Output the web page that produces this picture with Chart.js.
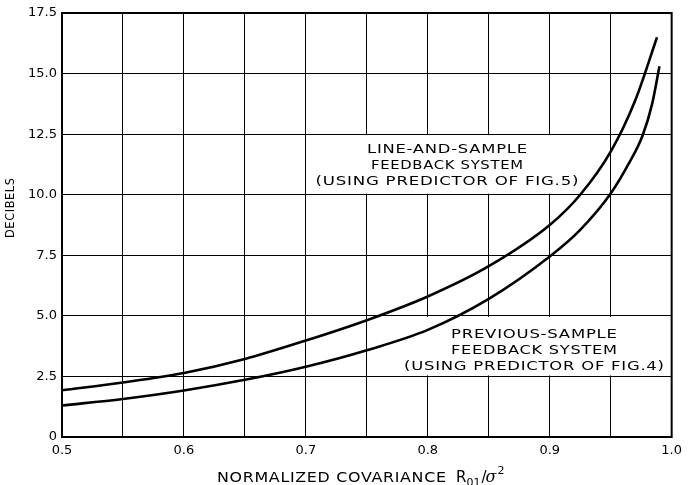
<!DOCTYPE html>
<html><head><meta charset="utf-8">
<script src="https://cdn.jsdelivr.net/npm/chart.js@4/dist/chart.umd.min.js"></script>
<style>html,body{margin:0;padding:0;background:#fff}#wrap{width:688px;height:485px}</style>
</head><body><div id="wrap"><canvas id="c"></canvas></div>
<script>
// ---- data ----
const lineSampleX  = [0.5, 0.55, 0.6, 0.65, 0.7, 0.75, 0.8, 0.85, 0.9, 0.925, 0.95, 0.97, 0.988];
const lineSampleDb = [1.93, 2.25, 2.64, 3.22, 3.98, 4.82, 5.8, 7.05, 8.75, 10.0, 11.78, 13.88, 16.5];
const prevSampleX  = [0.5, 0.55, 0.6, 0.65, 0.7, 0.75, 0.8, 0.85, 0.9, 0.925, 0.95, 0.965, 0.976, 0.984, 0.99];
const prevSampleDb = [1.3, 1.57, 1.92, 2.36, 2.9, 3.58, 4.42, 5.7, 7.45, 8.55, 10.05, 11.3, 12.42, 13.75, 15.3];
const yTickValues = [0, 2.5, 5.0, 7.5, 10.0, 12.5, 15.0, 17.5];
const xTickLabels = ['0.5', '0.6', '0.7', '0.8', '0.9', '1.0'];
const upperLabel = ['LINE-AND-SAMPLE', 'FEEDBACK SYSTEM', '(USING PREDICTOR OF FIG.5)'];
const lowerLabel = ['PREVIOUS-SAMPLE', 'FEEDBACK SYSTEM', '(USING PREDICTOR OF FIG.4)'];
const yTitle = 'DECIBELS';
const xTitleMain = 'NORMALIZED COVARIANCE';

const toPts = (xs, ys) => xs.map((x, i) => ({x: x, y: ys[i]}));
const FONT = '"DejaVu Sans", sans-serif';

// draw text stretched horizontally to a target width
function fitText(ctx, text, x, y, width, size, align) {
  ctx.save();
  ctx.font = size + 'px ' + FONT;
  ctx.letterSpacing = '0.6px';
  ctx.textAlign = 'left';
  const w = ctx.measureText(text).width - 0.6;
  const sx = width / w;
  const left = align === 'center' ? x - width / 2 : x;
  ctx.translate(left, y);
  ctx.scale(sx, 1);
  ctx.fillText(text, 0, 0);
  ctx.restore();
}

const decor = {
  id: 'decor',
  beforeDatasetsDraw(chart) {
    const {ctx, scales: {x, y}} = chart;
    ctx.save();
    ctx.fillStyle = '#fff';
    let l = x.getPixelForValue(0.7) + 1, r = x.getPixelForValue(0.95) - 1;
    let t = y.getPixelForValue(12.5) + 1, b = y.getPixelForValue(10) - 1;
    ctx.fillRect(l, t, r - l, b - t);
    l = x.getPixelForValue(0.75) + 1; r = x.getPixelForValue(1.0) - 1;
    t = y.getPixelForValue(5) + 1; b = y.getPixelForValue(2.5) - 1;
    ctx.fillRect(l, t, r - l, b - t);
    ctx.fillStyle = '#000';
    ctx.textBaseline = 'alphabetic';
    const uw = [160, 152, 263], ub = [153, 169, 185];
    upperLabel.forEach((s, i) => fitText(ctx, s, 447, ub[i], uw[i], 13, 'center'));
    const lw = [166, 166, 260], lb = [338, 354, 370];
    lowerLabel.forEach((s, i) => fitText(ctx, s, 534, lb[i], lw[i], 13, 'center'));
    ctx.restore();
  },
  afterDraw(chart) {
    const {ctx, chartArea: a} = chart;
    ctx.save();
    ctx.strokeStyle = '#000';
    ctx.lineWidth = 2;
    ctx.strokeRect(a.left, a.top, a.right - a.left, a.bottom - a.top);
    ctx.fillStyle = '#000';
    ctx.textBaseline = 'alphabetic';
    ctx.save();
    ctx.translate(14, 208);
    ctx.rotate(-Math.PI / 2);
    fitText(ctx, yTitle, 0, 0, 60, 12, 'center');
    ctx.restore();
    fitText(ctx, xTitleMain, 217, 482, 229, 14, 'left');
    let px = 456;
    ctx.textAlign = 'left';
    ctx.font = '15px ' + FONT;
    ctx.fillText('R', px, 482); px += ctx.measureText('R').width;
    ctx.font = '11px ' + FONT;
    ctx.fillText('01', px, 486); px += ctx.measureText('01').width + 1;
    ctx.font = '15px ' + FONT;
    ctx.fillText('/', px, 482); px += ctx.measureText('/').width - 1;
    ctx.font = 'italic 16px "DejaVu Serif", serif';
    ctx.fillText('σ', px, 482); px += ctx.measureText('σ').width + 1;
    ctx.font = '11px ' + FONT;
    ctx.fillText('2', px, 474);
    ctx.restore();
  }
};

new Chart(document.getElementById('c'), {
  type: 'scatter',
  data: {
    datasets: [
      {label: 'Line-and-sample feedback system', data: toPts(lineSampleX, lineSampleDb)},
      {label: 'Previous-sample feedback system', data: toPts(prevSampleX, prevSampleDb)}
    ].map(d => Object.assign(d, {
      showLine: true, borderColor: '#000', borderWidth: 2.6, pointRadius: 0,
      cubicInterpolationMode: 'monotone', fill: false
    }))
  },
  options: {
    responsive: true, maintainAspectRatio: false, animation: false,
    layout: {padding: {top: 13, right: 12, left: 0, bottom: 0}},
    plugins: {legend: {display: false}, tooltip: {enabled: false}},
    scales: {
      x: {
        type: 'linear', min: 0.5, max: 1.0,
        afterFit: s => { s.height = 48; },
        afterBuildTicks: s => { s.ticks = []; for (let i = 0; i <= 10; i++) s.ticks.push({value: 0.5 + i * 0.05}); },
        ticks: {
          color: '#000', font: {family: 'DejaVu Sans', size: 13}, padding: 6, maxRotation: 0, autoSkip: false,
          callback: v => { const k = Math.round(v * 100); return k % 10 === 0 ? xTickLabels[(k - 50) / 10] : ''; }
        },
        grid: {color: '#000', lineWidth: 1, drawTicks: false},
        border: {display: false}
      },
      y: {
        type: 'linear', min: 0, max: 17.5,
        afterFit: s => { s.width = 62; },
        afterBuildTicks: s => { s.ticks = yTickValues.map(v => ({value: v})); },
        ticks: {
          color: '#000', font: {family: 'DejaVu Sans', size: 13}, padding: 5,
          callback: v => v === 0 ? '0' : v.toFixed(1)
        },
        grid: {color: '#000', lineWidth: 1, drawTicks: false},
        border: {display: false}
      }
    }
  },
  plugins: [decor]
});
</script></body></html>
